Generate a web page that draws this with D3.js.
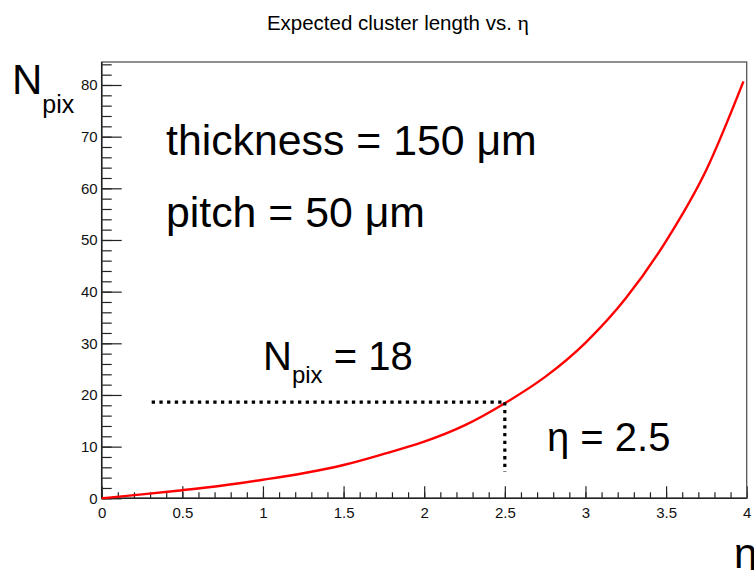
<!DOCTYPE html>
<html>
<head>
<meta charset="utf-8">
<script src="https://cdn.jsdelivr.net/npm/d3@7"></script>
<style>
  body { margin: 0; background: #fff; }
  svg { display: block; font-family: "Liberation Sans", Arial, Helvetica, sans-serif; }
  .tick-label text { fill: #111; }
</style>
</head>
<body>
<div id="chart"></div>
<script>
/*
 * Data
 *****************************/
const etaValues  = [0, 0.25, 0.5, 0.75, 1, 1.25, 1.5, 1.75, 2, 2.25, 2.5, 2.75, 3, 3.25, 3.5, 3.75, 3.98];
const npixValues = [0, 0.76, 1.57, 2.48, 3.6, 4.85, 6.45, 8.6, 10.95, 14.1, 18.4, 23.5, 30.1, 38.7, 49.8, 63.6, 80.7];

const xMajorTicks = [0, 0.5, 1, 1.5, 2, 2.5, 3, 3.5, 4];
const xMajorLabels = ["0", "0.5", "1", "1.5", "2", "2.5", "3", "3.5", "4"];
const yMajorTicks = [0, 10, 20, 30, 40, 50, 60, 70, 80];

// marker lines at eta = 2.5
const markEta = 2.5;
const markNpix = 18.6;
const markLineStartEta = 0.31;
const markLineEndNpix = 5.1;

/*
 * Layout
 *****************************/
const width = 754, height = 570;
const frame = { left: 101.7, right: 746.7, top: 62, bottom: 498.3 };

const svg = d3.select("#chart").append("svg")
  .attr("width", width)
  .attr("height", height);

const xScale = d3.scaleLinear().domain([0, 4]).range([frame.left, frame.right]);
const yScale = d3.scaleLinear().domain([0, 84.45]).range([frame.bottom, frame.top]);

// title
const title = svg.append("text")
  .attr("x", 398)
  .attr("y", 30)
  .attr("text-anchor", "middle")
  .style("font-size", "20.5px")
  .attr("fill", "#000");
title.append("tspan").text("Expected cluster length vs.  ");
title.append("tspan").style("font-family", "'Liberation Serif', 'DejaVu Serif', serif").style("font-size", "22px").text("η");

// minor ticks
svg.append("g")
  .attr("transform", `translate(0,${frame.bottom})`)
  .call(d3.axisBottom(xScale).tickValues(d3.range(0, 41).map(i => i / 10)).tickSize(-6).tickFormat(""))
  .call(g => g.select(".domain").remove());

svg.append("g")
  .attr("transform", `translate(${frame.left},0)`)
  .call(d3.axisLeft(yScale).tickValues(d3.range(0, 43).map(i => i * 2)).tickSize(-10).tickFormat(""))
  .call(g => g.select(".domain").remove());

// major ticks + labels
const xAxisG = svg.append("g")
  .attr("class", "tick-label")
  .attr("transform", `translate(0,${frame.bottom})`)
  .call(d3.axisBottom(xScale).tickValues(xMajorTicks).tickSize(-12).tickPadding(9)
    .tickFormat((d, i) => xMajorLabels[i]))
  .call(g => g.select(".domain").remove());

const yAxisG = svg.append("g")
  .attr("class", "tick-label")
  .attr("transform", `translate(${frame.left},0)`)
  .call(d3.axisLeft(yScale).tickValues(yMajorTicks).tickSize(-20).tickPadding(4))
  .call(g => g.select(".domain").remove());

svg.selectAll(".tick-label").attr("font-size", 15).attr("font-family", null);
svg.selectAll(".tick line").attr("stroke", "#222").attr("stroke-width", 1.2);
xAxisG.selectAll("text").attr("dy", "0.71em");

// frame
svg.append("rect")
  .attr("x", frame.left)
  .attr("y", frame.top)
  .attr("width", frame.right - frame.left)
  .attr("height", frame.bottom - frame.top)
  .attr("fill", "none")
  .attr("stroke", "#555")
  .attr("stroke-width", 1.3);
svg.append("line")
  .attr("x1", frame.left).attr("x2", frame.left)
  .attr("y1", frame.top).attr("y2", frame.bottom)
  .attr("stroke", "#222").attr("stroke-width", 1.5);
svg.append("line")
  .attr("x1", frame.left).attr("x2", frame.right)
  .attr("y1", frame.bottom).attr("y2", frame.bottom)
  .attr("stroke", "#222").attr("stroke-width", 1.5);

// curve
const points = etaValues.map((e, i) => [e, npixValues[i]]);
const line = d3.line()
  .x(d => xScale(d[0]))
  .y(d => yScale(d[1]))
  .curve(d3.curveMonotoneX);

svg.append("path")
  .datum(points)
  .attr("d", line)
  .attr("fill", "none")
  .attr("stroke", "#ff0000")
  .attr("stroke-width", 2.4);

// dotted marker lines
svg.append("line")
  .attr("x1", xScale(markLineStartEta)).attr("x2", xScale(markEta))
  .attr("y1", yScale(markNpix)).attr("y2", yScale(markNpix))
  .attr("stroke", "#000").attr("stroke-width", 3.2)
  .attr("stroke-dasharray", "3.3,4.4");
svg.append("line")
  .attr("x1", xScale(markEta)).attr("x2", xScale(markEta))
  .attr("y1", yScale(markNpix)).attr("y2", yScale(markLineEndNpix))
  .attr("stroke", "#000").attr("stroke-width", 3.2)
  .attr("stroke-dasharray", "3.3,4.4");

// big annotations
const big = svg.append("g").attr("fill", "#000");
big.append("text").attr("x", 166).attr("y", 155).style("font-size", "42.8px").text("thickness = 150 μm");
big.append("text").attr("x", 166).attr("y", 227).style("font-size", "42.8px").text("pitch = 50 μm");

const nText = big.append("text").attr("x", 263).attr("y", 370).style("font-size", "40px");
nText.append("tspan").text("N");
nText.append("tspan").attr("dy", 13).style("font-size", "24px").text("pix");
nText.append("tspan").attr("dy", -13).text(" = 18");

big.append("text").attr("x", 547).attr("y", 451).style("font-size", "40px").text("η = 2.5");

// axis titles
const yTitle = big.append("text").attr("x", 12).attr("y", 94).style("font-size", "42px");
yTitle.append("tspan").text("N");
yTitle.append("tspan").attr("dy", 19).style("font-size", "25px").text("pix");

big.append("text").attr("x", 734).attr("y", 568).style("font-size", "42px").text("η");
</script>
</body>
</html>
